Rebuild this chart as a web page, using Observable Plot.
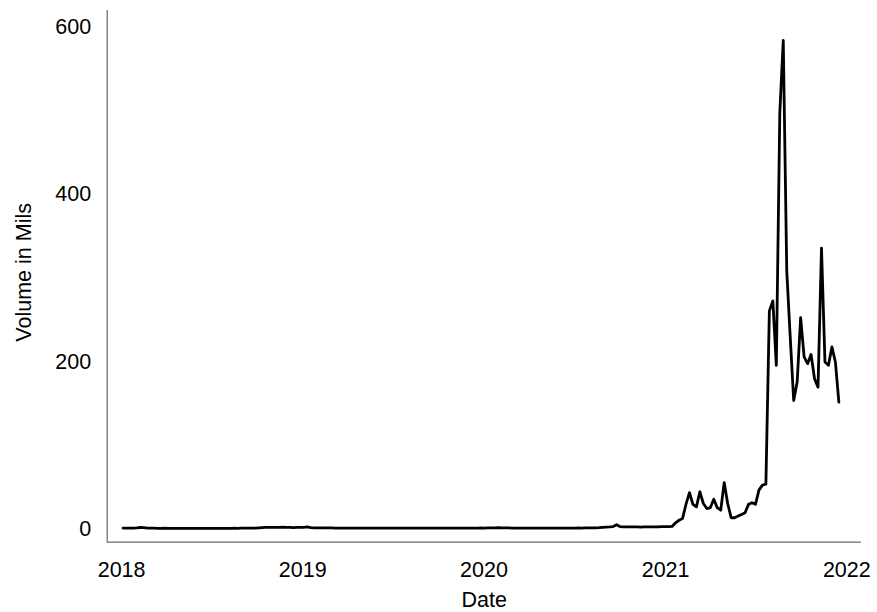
<!DOCTYPE html>
<html><head><meta charset="utf-8">
<script src="https://cdn.jsdelivr.net/npm/d3@7"></script>
<script src="https://cdn.jsdelivr.net/npm/@observablehq/plot@0.6"></script>
<style>html,body{margin:0;padding:0;background:#fff;} svg{display:block;}</style>
</head><body><div id="chart"></div>
<script>
// Weekly volume (millions), first week starting 2018-01-04
const startDate = "2018-01-04";
const weekStep = 7;
// 2018 – Jan 2021 (near-flat period)
const volumeEarly = [
  1.5,1.5,1.5,1.6,1.8,2.6,2.2,
  1.6,1.5,1.5,1.4,1.4,1.5,1.4,1.4,1.3,1.4,1.3,1.3,1.4,1.3,1.3,1.3,1.4,1.3,1.3,1.3,1.4,1.4,1.3,1.4,1.4,1.5,1.4,1.5,1.5,1.6,1.6,1.7,
  2.0,2.3,2.5,2.6,2.5,2.4,2.6,2.7,2.5,2.4,2.3,2.5,2.4,2.6,
  3.2,2.2,2.0,1.9,2.0,1.8,1.9,1.8,
  1.7,1.7,1.6,1.7,1.6,1.6,1.7,1.6,1.6,1.6,
  1.7,1.6,1.6,1.5,1.6,1.6,1.5,1.6,1.6,1.5,
  1.6,1.6,1.5,1.5,1.6,1.5,1.6,1.6,1.5,1.6,
  1.6,1.5,1.6,1.6,1.7,1.6,1.6,1.7,1.7,1.6,
  1.7,1.7,1.8,1.7,1.8,1.9,2.0,
  2.3,
  1.9,1.8,1.8,1.7,1.7,1.6,1.7,1.6,1.6,1.6,
  1.7,1.6,1.6,1.6,1.7,1.6,1.7,1.7,1.6,1.7,
  1.7,1.7,1.8,1.7,1.8,1.8,1.9,
  2.0,2.2,2.5,2.8,3.0,3.4,
  5.6,
  3.5,3.2,3.0,3.0,3.1,3.0,2.9,3.0,3.1,3.0,3.2,3.1,3.3,3.4,3.5
];
// Late Jan 2021 – Dec 2021
const volumeLate = [
  3.6,8,11,13,30,44,30,27,45,31,25,26,36,26,23,56,31,14,14,16,18,20,30,32,30,47,53,54,
  261,273,196,497,584,309,230,154,176,253,206,198,209,180,170,336,200,196,218,200,152
];
const xTickYears = ["2018","2019","2020","2021","2022"];
const yTicks = [0, 200, 400, 600];
const xLabel = "Date";
const yLabel = "Volume in Mils";
const xDomain = [new Date("2017-12-03"), new Date("2022-01-30")];
const yDomain = [-15.2, 619.7];

const volume = volumeEarly.concat(volumeLate);
const start = new Date(startDate);
const data = volume.map((v, i) => ({date: d3.utcDay.offset(start, i * weekStep), volume: v}));

const chart = Plot.plot({
  width: 877,
  height: 612,
  marginLeft: 106.7,
  marginRight: 16.3,
  marginTop: 10,
  marginBottom: 70.3,
  style: {fontFamily: "'Liberation Sans', Arial, sans-serif", fontSize: "21.5px", color: "#000", background: "#fff", overflow: "visible"},
  x: {type: "utc", domain: xDomain},
  y: {domain: yDomain},
  marks: [
    Plot.ruleX([xDomain[0]], {stroke: "#666", strokeWidth: 1.2}),
    Plot.ruleY([yDomain[0]], {stroke: "#666", strokeWidth: 1.2}),
    Plot.axisX({ticks: xTickYears.map(y => new Date(y + "-01-01")), tickSize: 0, tickPadding: 20, tickFormat: d3.utcFormat("%Y"), label: null, fill: "#000"}),
    Plot.axisY({ticks: yTicks, tickSize: 0, tickPadding: 16, label: null, fill: "#000"}),
    Plot.line(data, {x: "date", y: "volume", stroke: "#000", strokeWidth: 2.8, strokeLinejoin: "round"}),
    Plot.text([xLabel], {frameAnchor: "bottom", dy: 57.5, lineAnchor: "middle", textAnchor: "middle", fontSize: 21.5, fill: "#000"}),
    Plot.text([yLabel], {frameAnchor: "left", rotate: -90, dx: -83, dy: -4, lineAnchor: "middle", textAnchor: "middle", fontSize: 21.5, fill: "#000"})
  ]
});
document.getElementById("chart").appendChild(chart);
</script>
</body></html>
